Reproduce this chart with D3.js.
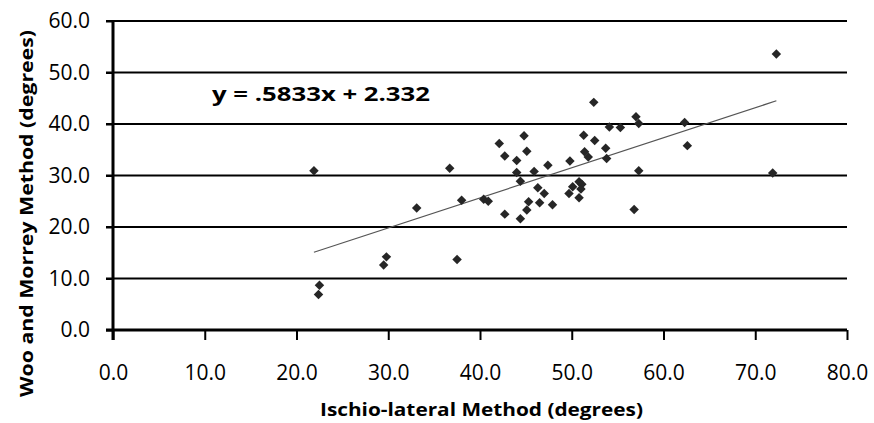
<!DOCTYPE html>
<html>
<head>
<meta charset="utf-8">
<script src="https://cdn.jsdelivr.net/npm/d3@7"></script>
<style>
  body { margin: 0; background: #fff; }
  text { font-family: "Open Sans", sans-serif; fill: #000; }
</style>
</head>
<body>
<div id="chart"></div>
<script>
/* Woo and Morrey vs Ischio-lateral scatter */

// Data
var ischioLateral = [21.9, 22.5, 22.4, 29.8, 29.5, 33.1, 36.7, 37.5, 38.0, 40.4,
  40.9, 42.1, 42.7, 42.7, 44.0, 44.0, 44.4, 44.4, 44.8, 45.1,
  45.1, 45.3, 45.9, 46.3, 46.5, 47.0, 47.4, 47.9, 49.7, 49.8,
  50.1, 50.8, 50.8, 51.1, 51.0, 51.3, 51.4, 51.8, 52.4, 52.5,
  53.7, 53.8, 54.1, 55.3, 56.8, 57.0, 57.3, 57.3, 62.3, 62.6,
  71.9, 72.3];
var wooMorrey = [30.9, 8.7, 6.9, 14.2, 12.6, 23.7, 31.4, 13.7, 25.2, 25.4,
  25.0, 36.2, 33.8, 22.5, 32.9, 30.6, 28.9, 21.6, 37.7, 34.7,
  23.3, 24.9, 30.8, 27.6, 24.7, 26.5, 32.0, 24.3, 26.5, 32.8,
  27.8, 25.7, 28.8, 28.3, 27.4, 37.8, 34.6, 33.6, 44.2, 36.8,
  35.3, 33.3, 39.4, 39.3, 23.4, 41.4, 40.1, 30.9, 40.3, 35.8,
  30.5, 53.6];
var xTicks = [0, 10, 20, 30, 40, 50, 60, 70, 80];
var yTicks = [0, 10, 20, 30, 40, 50, 60];
var slope = 0.5833, intercept = 2.332;

var data = ischioLateral.map(function(v, i) { return {x: v, y: wooMorrey[i]}; });

var W = 874, H = 423;
var svg = d3.select("#chart").append("svg").attr("width", W).attr("height", H);

var x = d3.scaleLinear().domain([0, 80]).range([113, 847]);
var y = d3.scaleLinear().domain([0, 60]).range([330, 21]);

// horizontal gridlines
svg.append("g").selectAll("line")
    .data(yTicks.filter(function(d) { return d > 0; }))
    .enter().append("line")
    .attr("x1", x(0) - 7).attr("x2", x(80))
    .attr("y1", function(d) { return y(d); })
    .attr("y2", function(d) { return y(d); })
    .attr("stroke", "#000").attr("stroke-width", 2);

// x axis
var xAxis = svg.append("g")
    .attr("transform", "translate(0," + y(0) + ")")
    .call(d3.axisBottom(x).tickValues(xTicks).tickSize(10).tickSizeOuter(0)
      .tickPadding(25).tickFormat(d3.format(".1f")));
xAxis.select(".domain").attr("stroke-width", 3)
    .attr("d", "M" + (x(0) - 7) + ",0H" + x(80));
xAxis.selectAll(".tick line").attr("stroke-width", 2);
xAxis.selectAll("text").style("font-size", "21px").style("font-family", "Open Sans");

// y axis
var yAxis = svg.append("g")
    .attr("transform", "translate(" + x(0) + ",0)")
    .call(d3.axisLeft(y).tickValues(yTicks).tickSize(7).tickSizeOuter(0)
      .tickPadding(16).tickFormat(d3.format(".1f")));
yAxis.select(".domain").attr("stroke-width", 3)
    .attr("d", "M0," + y(60) + "V" + (y(0) + 10));
yAxis.selectAll(".tick line").attr("stroke-width", 2);
yAxis.selectAll("text").style("font-size", "21px").style("font-family", "Open Sans");

// trend line
var xMin = d3.min(ischioLateral), xMax = d3.max(ischioLateral);
svg.append("line")
    .attr("x1", x(xMin)).attr("y1", y(slope * xMin + intercept))
    .attr("x2", x(xMax)).attr("y2", y(slope * xMax + intercept))
    .attr("stroke", "#555").attr("stroke-width", 1.2);

// points (diamonds)
svg.append("g").selectAll("path")
    .data(data)
    .enter().append("path")
    .attr("d", d3.symbol().type(d3.symbolSquare).size(45))
    .attr("transform", function(d) { return "translate(" + x(d.x) + "," + y(d.y) + ") rotate(45)"; })
    .attr("fill", "#262626");

// equation
svg.append("text")
    .attr("x", 212).attr("y", 101)
    .attr("textLength", 218).attr("lengthAdjust", "spacingAndGlyphs")
    .style("font-size", "20px").style("font-weight", "bold")
    .text("y = .5833x + 2.332");

// axis titles
svg.append("text")
    .attr("x", 320).attr("y", 416)
    .attr("textLength", 323).attr("lengthAdjust", "spacingAndGlyphs")
    .style("font-size", "18px").style("font-weight", "bold")
    .text("Ischio-lateral Method (degrees)");

svg.append("text")
    .attr("transform", "translate(33,397) rotate(-90)")
    .attr("textLength", 367).attr("lengthAdjust", "spacingAndGlyphs")
    .style("font-size", "18px").style("font-weight", "bold")
    .text("Woo and Morrey  Method (degrees)");
</script>
</body>
</html>
